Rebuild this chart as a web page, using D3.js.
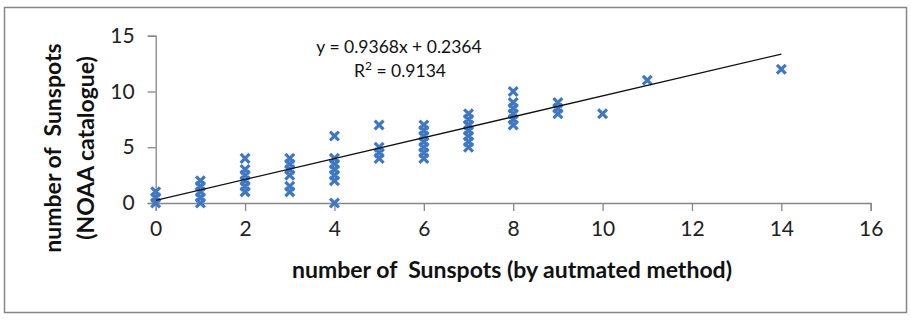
<!DOCTYPE html>
<html>
<head>
<meta charset="utf-8">
<script src="https://cdn.jsdelivr.net/npm/d3@7"></script>
<style>
  body { margin: 0; background: #fff; }
  svg { display: block; }
  text { font-family: Lato, "Open Sans", sans-serif; white-space: pre; }
</style>
</head>
<body>
<svg id="chart" width="911" height="320"></svg>
<script>
// Data
const automatedCount = [0,0,0, 1,1,1,1,1, 2,2,2,2,2,2, 3,3,3,3,3,3, 4,4,4,4,4,4,4, 5,5,5,5, 6,6,6,6,6,6,6, 7,7,7,7,7,7,7, 8,8,8,8,8,8, 9,9,9, 10, 11, 14];
const noaaCount      = [0,0.5,1, 0,0.5,1,1.5,2, 1,1.5,2,2.5,3,4, 1,1.5,2.5,3,3.5,4, 0,2,2.5,3,3.5,4,6, 4,4.5,5,7, 4,4.5,5,5.5,6,6.5,7, 5,5.5,6,6.5,7,7.5,8, 7,7.5,8,8.5,9,10, 8,8.5,9, 8, 11, 12];
const xTicks = [0,2,4,6,8,10,12,14,16];
const yTicks = [0,5,10,15];
const slope = 0.9368, intercept = 0.2364, rSquared = 0.9134;
const xTitle = "number of  Sunspots (by autmated method)";
const yTitleLines = ["number of  Sunspots", "(NOAA catalogue)"];

const svg = d3.select("#chart");
const axisColor = "#868686";
const markerColor = "#3f78c2";

// outer frame
svg.append("rect").attr("x", 4.5).attr("y", 7.5).attr("width", 902).attr("height", 305)
  .attr("fill", "#fff").attr("stroke", axisColor).attr("stroke-width", 1.5);

const x = d3.scaleLinear().domain([0, 16]).range([155.7, 870.7]);
const y = d3.scaleLinear().domain([0, 15]).range([203, 35.7]);

// axes
const xAxis = svg.append("g").attr("transform", `translate(0,${y(0)})`)
  .call(d3.axisBottom(x).tickValues(xTicks).tickSize(8).tickPadding(10).tickFormat(d3.format("d")));
const yAxis = svg.append("g").attr("transform", `translate(${x(0)},0)`)
  .call(d3.axisLeft(y).tickValues(yTicks).tickSize(8).tickPadding(13).tickFormat(d3.format("d")));
[xAxis, yAxis].forEach(g => {
  g.select(".domain").attr("stroke", axisColor).attr("stroke-width", 1.3);
  g.selectAll(".tick line").attr("stroke", axisColor).attr("stroke-width", 1.3);
  g.selectAll(".tick text").attr("fill", "#222").style("font-size", "21px");
});

// markers (x shapes)
const r = 4.4;
svg.append("g").selectAll("path").data(automatedCount.map((d, i) => [d, noaaCount[i]]))
  .join("path")
  .attr("d", d => {
    const cx = x(d[0]), cy = y(d[1]);
    return `M${cx - r},${cy - r}L${cx + r},${cy + r}M${cx - r},${cy + r}L${cx + r},${cy - r}`;
  })
  .attr("stroke", markerColor).attr("stroke-width", 3.2).attr("fill", "none");

// trendline
const xMin = d3.min(automatedCount), xMax = d3.max(automatedCount);
svg.append("line")
  .attr("x1", x(xMin)).attr("y1", y(slope * xMin + intercept))
  .attr("x2", x(xMax)).attr("y2", y(slope * xMax + intercept))
  .attr("stroke", "#111").attr("stroke-width", 1.3);

// equation
svg.append("text").attr("x", 399).attr("y", 53).attr("text-anchor", "middle")
  .style("font-size", "17.5px").attr("fill", "#111")
  .text(`y = ${slope}x + ${intercept}`);
const r2 = svg.append("text").attr("x", 400).attr("y", 77).attr("text-anchor", "middle")
  .style("font-size", "17.5px").attr("fill", "#111");
r2.append("tspan").text("R");
r2.append("tspan").attr("dy", -7).style("font-size", "12px").text("2");
r2.append("tspan").attr("dy", 7).text(` = ${rSquared}`);

// axis titles
svg.append("text").attr("x", 512).attr("y", 278).attr("text-anchor", "middle")
  .style("font-size", "23px").style("font-weight", "bold").attr("fill", "#111")
  .text(xTitle);
const yT = svg.append("text").attr("transform", "translate(61,148) rotate(-90)")
  .attr("text-anchor", "middle").style("font-size", "23px").style("font-weight", "bold").attr("fill", "#111");
yT.append("tspan").attr("x", 0).attr("y", 0).text(yTitleLines[0]);
yT.append("tspan").attr("x", 0).attr("y", 33).text(yTitleLines[1]);
</script>
</body>
</html>
